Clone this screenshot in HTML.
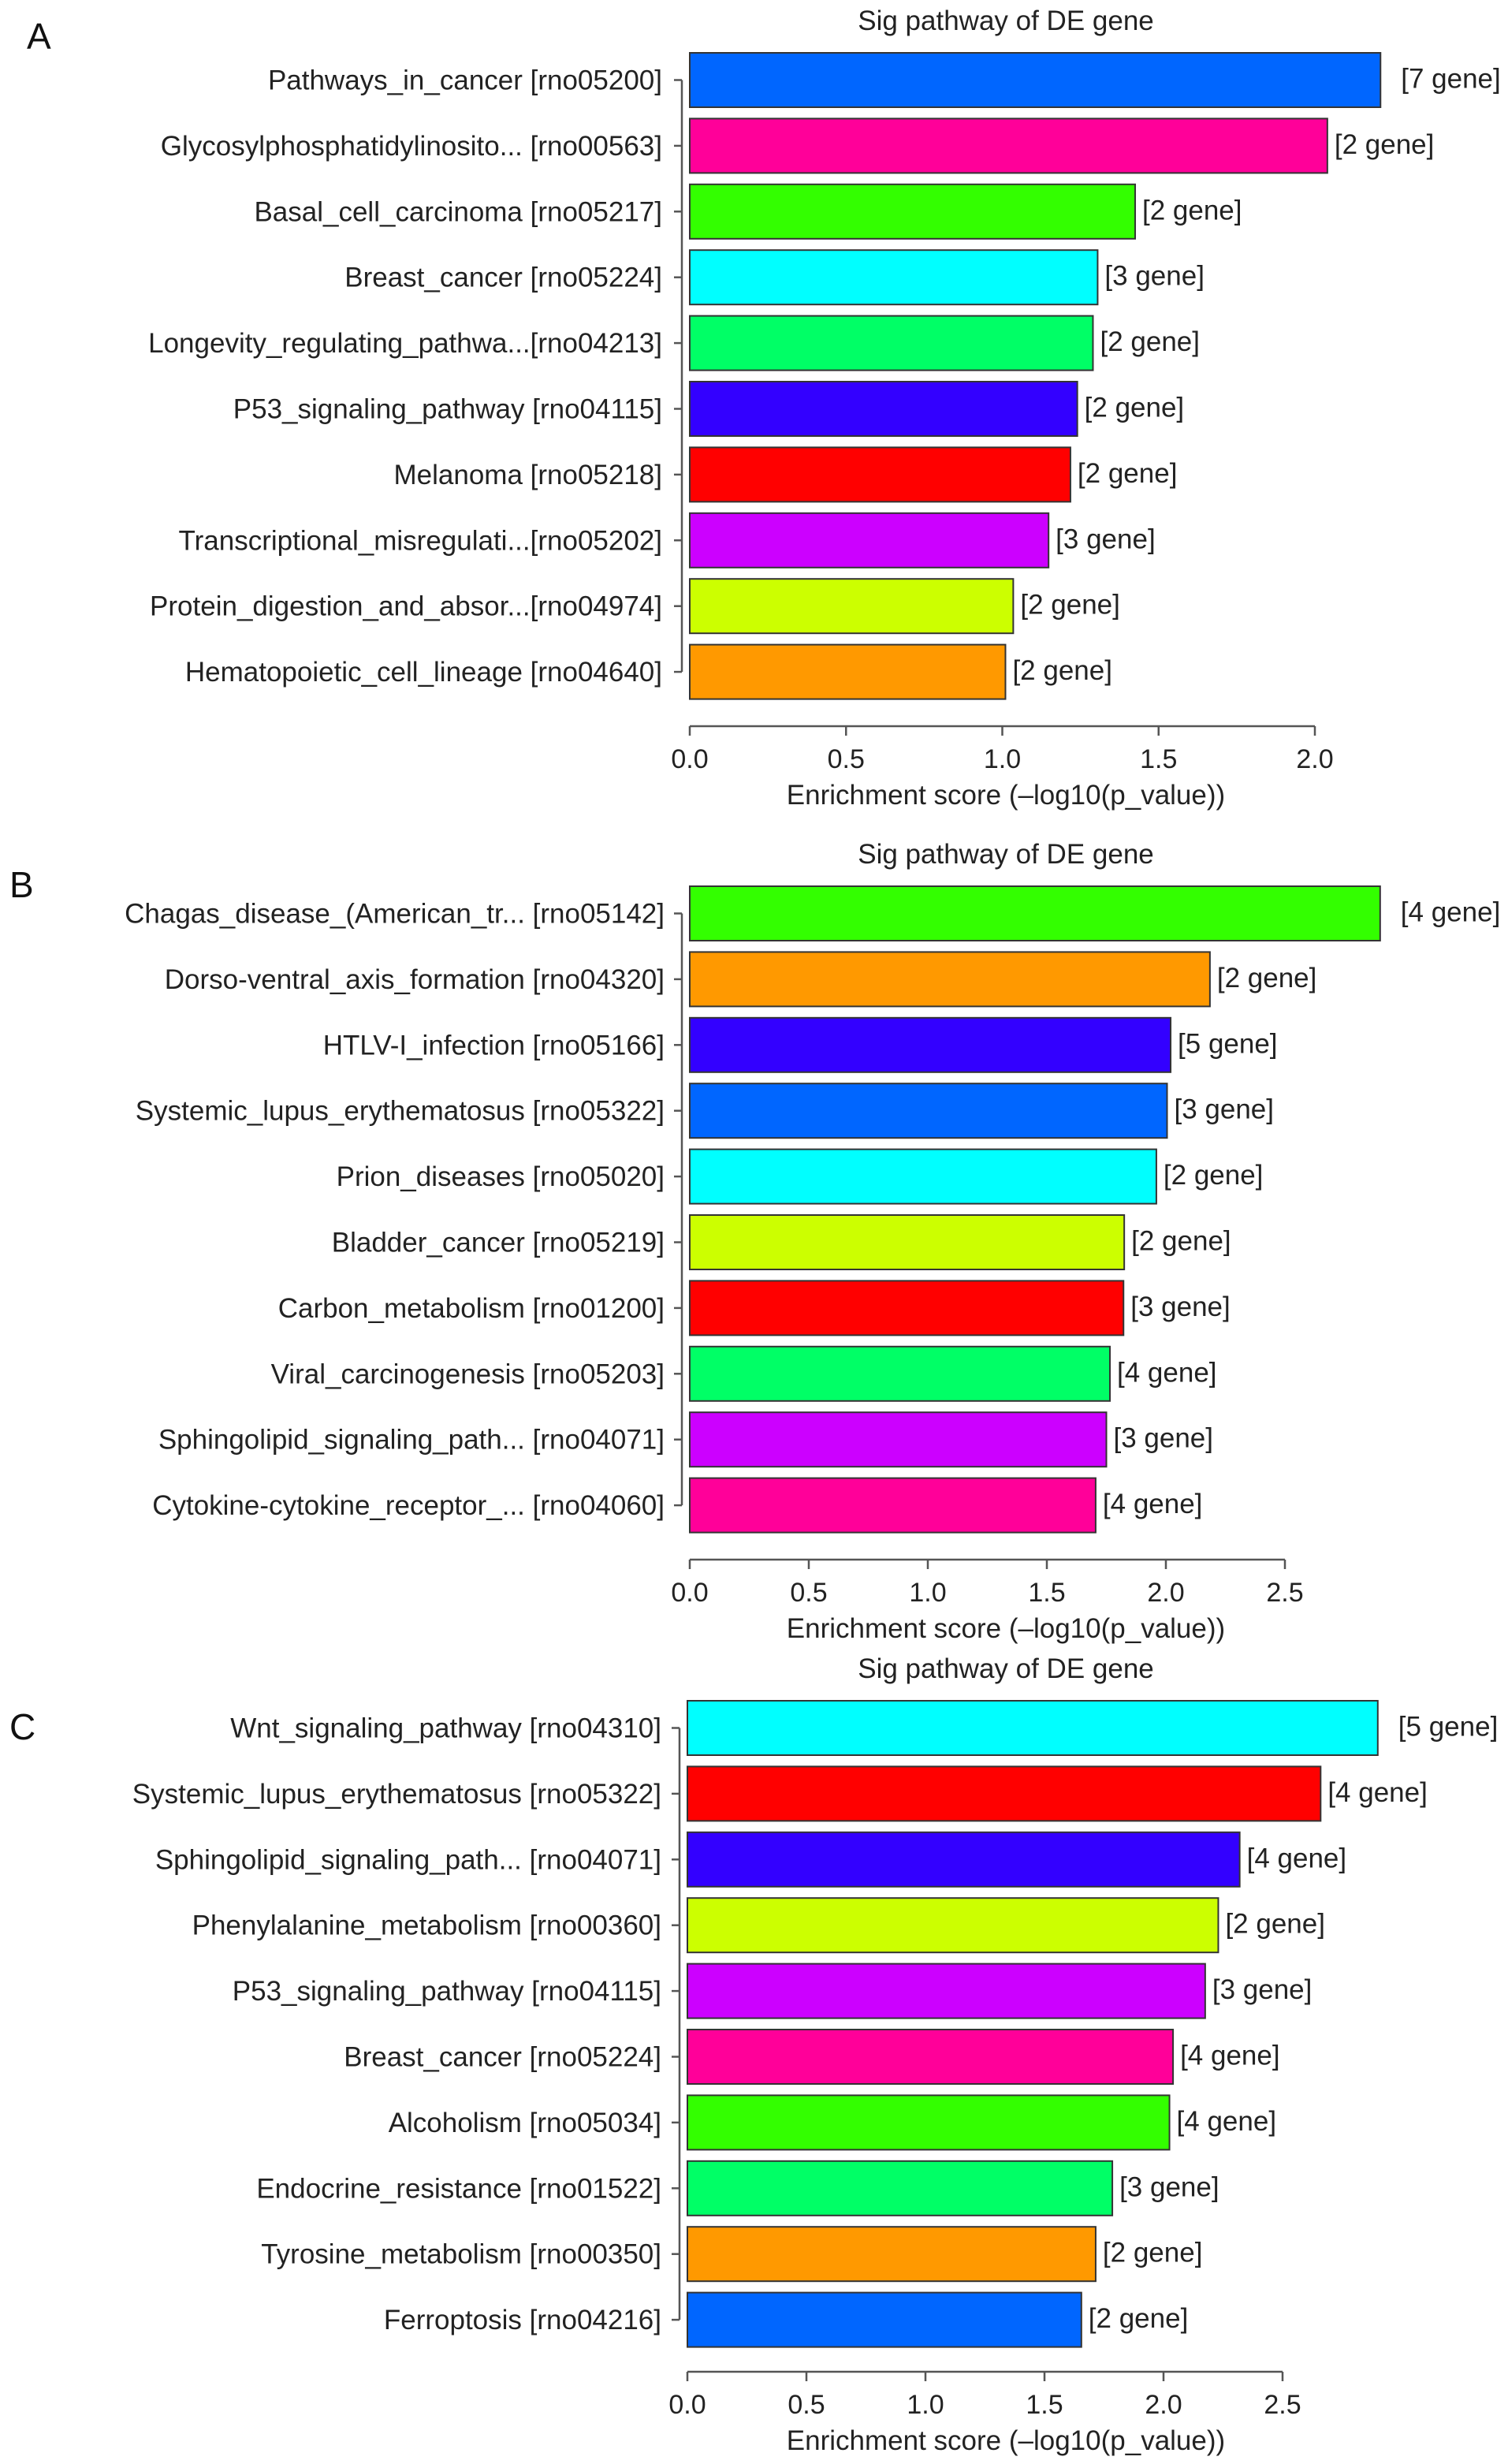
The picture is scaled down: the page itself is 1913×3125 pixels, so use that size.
<!DOCTYPE html>
<html><head><meta charset="utf-8"><style>
html,body{margin:0;padding:0;background:#fff;}
svg{display:block;font-family:"Liberation Sans",Arial,sans-serif;}
</style></head><body>
<svg id="fig" width="1913" height="3125" viewBox="0 0 1913 3125" xmlns="http://www.w3.org/2000/svg"></svg>
<script>
const colors = ["#0066ff","#ff0099","#33ff00","#00ffff","#00ff66","#3300ff","#ff0000","#cc00ff","#ccff00","#ff9900"];
const catsA = ["Pathways_in_cancer [rno05200]","Glycosylphosphatidylinosito... [rno00563]","Basal_cell_carcinoma [rno05217]","Breast_cancer [rno05224]","Longevity_regulating_pathwa...[rno04213]","P53_signaling_pathway [rno04115]","Melanoma [rno05218]","Transcriptional_misregulati...[rno05202]","Protein_digestion_and_absor...[rno04974]","Hematopoietic_cell_lineage [rno04640]"];
const valsA = [2.21,2.04,1.425,1.305,1.29,1.24,1.218,1.148,1.035,1.01];
const genesA = ["[7 gene]","[2 gene]","[2 gene]","[3 gene]","[2 gene]","[2 gene]","[2 gene]","[3 gene]","[2 gene]","[2 gene]"];
const colorIdxA = [0,1,2,3,4,5,6,7,8,9];
const ticksA = ["0.0","0.5","1.0","1.5","2.0"];
const catsB = ["Chagas_disease_(American_tr... [rno05142]","Dorso-ventral_axis_formation [rno04320]","HTLV-I_infection [rno05166]","Systemic_lupus_erythematosus [rno05322]","Prion_diseases [rno05020]","Bladder_cancer [rno05219]","Carbon_metabolism [rno01200]","Viral_carcinogenesis [rno05203]","Sphingolipid_signaling_path... [rno04071]","Cytokine-cytokine_receptor_... [rno04060]"];
const valsB = [2.90,2.185,2.02,2.005,1.96,1.825,1.822,1.765,1.75,1.705];
const genesB = ["[4 gene]","[2 gene]","[5 gene]","[3 gene]","[2 gene]","[2 gene]","[3 gene]","[4 gene]","[3 gene]","[4 gene]"];
const colorIdxB = [2,9,5,0,3,8,6,4,7,1];
const ticksB = ["0.0","0.5","1.0","1.5","2.0","2.5"];
const catsC = ["Wnt_signaling_pathway [rno04310]","Systemic_lupus_erythematosus [rno05322]","Sphingolipid_signaling_path... [rno04071]","Phenylalanine_metabolism [rno00360]","P53_signaling_pathway [rno04115]","Breast_cancer [rno05224]","Alcoholism [rno05034]","Endocrine_resistance [rno01522]","Tyrosine_metabolism [rno00350]","Ferroptosis [rno04216]"];
const valsC = [2.90,2.66,2.32,2.23,2.175,2.04,2.025,1.785,1.715,1.655];
const genesC = ["[5 gene]","[4 gene]","[4 gene]","[2 gene]","[3 gene]","[4 gene]","[4 gene]","[3 gene]","[2 gene]","[2 gene]"];
const colorIdxC = [3,6,5,8,7,1,2,4,9,0];
const ticksC = ["0.0","0.5","1.0","1.5","2.0","2.5"];

const NS="http://www.w3.org/2000/svg";
const svg=document.getElementById('fig');
function mk(tag,attrs,parent){const e=document.createElementNS(NS,tag);for(const k in attrs)e.setAttribute(k,attrs[k]);(parent||svg).appendChild(e);return e;}

function panel(letter,letterX,letterY,cats,vals,genes,cidx,ticks,x0,unit,top,axisY,labelRight){
  const g=mk('g',{});
  
  
  const pitch=83.4, bh=69;
  const xs=v=>x0+v*unit;
  const L=mk('text',{x:letterX,y:letterY,'font-size':46,fill:'#111'},g);L.textContent=letter;
  
  
  const T=mk('text',{x:1276,y:top-29,'font-size':35,fill:'#222','text-anchor':'middle'},g);T.textContent='Sig pathway of DE gene';
  
  
  const c0=top+bh/2, cN=top+9*pitch+bh/2;
  const ya=mk('line',{x1:x0-10,x2:x0-10,y1:c0,y2:cN,stroke:'#555','stroke-width':2.5},g);
  
  
  cats.forEach((c,i)=>{
    const y=top+i*pitch, cy=y+bh/2;
    mk('line',{x1:x0-20,x2:x0-10,y1:cy,y2:cy,stroke:'#555','stroke-width':2.5},g);
    const t=mk('text',{x:labelRight,y:cy+12,'font-size':35,fill:'#222','text-anchor':'end'},g);t.textContent=c;
    
    
    const r=mk('rect',{x:x0,y:y,width:xs(vals[i])-x0,height:bh,fill:colors[cidx[i]],stroke:'#333','stroke-width':2},g);
    
    
    const gt=mk('text',{x:xs(vals[i])+(i===0?26:9),y:cy+10,'font-size':35,fill:'#222'},g);gt.textContent=genes[i];
    
    
  });
  const xa=mk('line',{x1:x0,x2:xs(parseFloat(ticks[ticks.length-1])),y1:axisY,y2:axisY,stroke:'#555','stroke-width':2.5},g);
  
  
  ticks.forEach(tk=>{
    const x=xs(parseFloat(tk));
    mk('line',{x1:x,x2:x,y1:axisY,y2:axisY+12,stroke:'#555','stroke-width':2.5},g);
    const t=mk('text',{x:x,y:axisY+53,'font-size':34,fill:'#222','text-anchor':'middle'},g);t.textContent=tk;
    
    
  });
  const xl=mk('text',{x:1276,y:axisY+99,'font-size':35,fill:'#222','text-anchor':'middle'},g);xl.textContent='Enrichment score (\u2013log10(p_value))';
  
  
}
panel('A',34,62,catsA,valsA,genesA,colorIdxA,ticksA,875,396.5,67,921,840);
panel('B',12,1138,catsB,valsB,genesB,colorIdxB,ticksB,875,302,1124,1978,843);
panel('C',12,2206,catsC,valsC,genesC,colorIdxC,ticksC,872,302,2157,3008,839);
</script>
</body></html>
